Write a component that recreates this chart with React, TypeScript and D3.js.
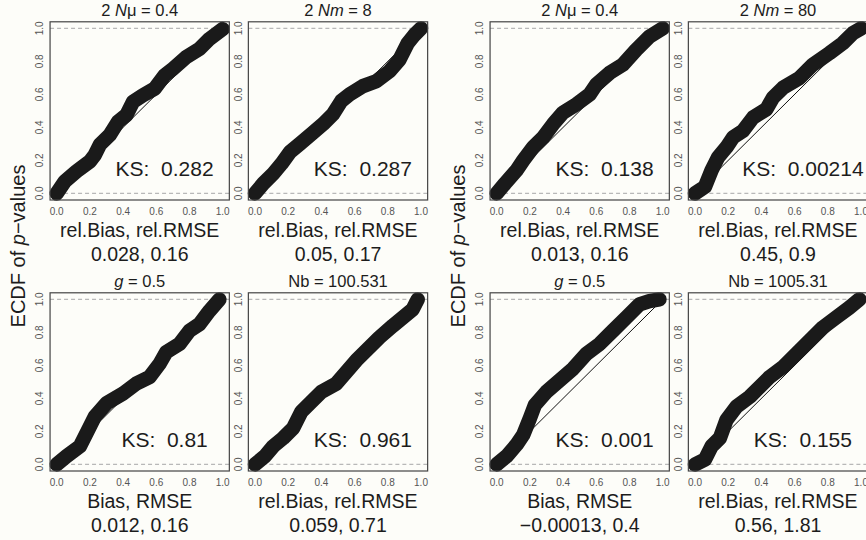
import React from 'react';
import * as d3 from 'd3';

// ---------- data ----------
const panelTitles = [
  '2 *N*μ = 0.4', '2 *N**m* = 8', '*g* = 0.5', 'Nb = 100.531',
  '2 *N*μ = 0.4', '2 *N**m* = 80', '*g* = 0.5', 'Nb = 1005.31',
];
const xLabelTop = [
  'rel.Bias, rel.RMSE', 'rel.Bias, rel.RMSE', 'Bias, RMSE', 'rel.Bias, rel.RMSE',
  'rel.Bias, rel.RMSE', 'rel.Bias, rel.RMSE', 'Bias, RMSE', 'rel.Bias, rel.RMSE',
];
const xLabelBottom = [
  '0.028, 0.16', '0.05, 0.17', '0.012, 0.16', '0.059, 0.71',
  '0.013, 0.16', '0.45, 0.9', '\u22120.00013, 0.4', '0.56, 1.81',
];
const ksValues = ['0.282', '0.287', '0.81', '0.961', '0.138', '0.00214', '0.001', '0.155'];
const tickValues = [0, 0.2, 0.4, 0.6, 0.8, 1.0];
const tickLabels = ['0.0', '0.2', '0.4', '0.6', '0.8', '1.0'];

const ecdfMuA: [number, number][] = [
  [0, 0], [0.05, 0.074], [0.12, 0.134], [0.2, 0.194], [0.23, 0.234], [0.26, 0.295],
  [0.32, 0.355], [0.37, 0.435], [0.42, 0.475], [0.46, 0.555], [0.52, 0.595], [0.59, 0.635],
  [0.65, 0.715], [0.7, 0.755], [0.78, 0.826], [0.86, 0.876], [0.92, 0.936], [1.0, 0.996],
];
const ecdfNmA: [number, number][] = [
  [0, 0], [0.05, 0.06], [0.11, 0.12], [0.16, 0.18], [0.21, 0.25], [0.27, 0.3],
  [0.34, 0.36], [0.41, 0.42], [0.47, 0.48], [0.52, 0.56], [0.57, 0.6], [0.65, 0.65],
  [0.73, 0.68], [0.81, 0.74], [0.87, 0.81], [0.92, 0.91], [0.96, 0.96], [1.0, 1.0],
];
const ecdfGA: [number, number][] = [
  [0, 0], [0.06, 0.05], [0.14, 0.11], [0.19, 0.21], [0.23, 0.29], [0.3, 0.37],
  [0.4, 0.43], [0.48, 0.49], [0.56, 0.53], [0.62, 0.61], [0.66, 0.68], [0.74, 0.73],
  [0.8, 0.81], [0.86, 0.85], [0.92, 0.93], [0.98, 1.0],
];
const ecdfNbA: [number, number][] = [
  [0, 0], [0.06, 0.05], [0.11, 0.11], [0.17, 0.16], [0.23, 0.22], [0.28, 0.32],
  [0.33, 0.37], [0.4, 0.44], [0.49, 0.49], [0.55, 0.56], [0.61, 0.63], [0.68, 0.7],
  [0.75, 0.77], [0.83, 0.84], [0.89, 0.89], [0.95, 0.94], [0.98, 1.0],
];
const ecdfMuB: [number, number][] = [
  [0, 0], [0.05, 0.06], [0.12, 0.14], [0.16, 0.2], [0.22, 0.28], [0.28, 0.34],
  [0.34, 0.42], [0.4, 0.49], [0.48, 0.54], [0.56, 0.6], [0.6, 0.66], [0.68, 0.73],
  [0.76, 0.78], [0.84, 0.87], [0.92, 0.95], [1.0, 1.0],
];
const ecdfNmB: [number, number][] = [
  [0, 0], [0.06, 0.04], [0.1, 0.14], [0.14, 0.22], [0.19, 0.28], [0.23, 0.34],
  [0.29, 0.38], [0.35, 0.46], [0.43, 0.51], [0.47, 0.58], [0.53, 0.64], [0.63, 0.7],
  [0.71, 0.78], [0.81, 0.85], [0.89, 0.91], [0.95, 0.97], [1.0, 1.0],
];
const ecdfGB: [number, number][] = [
  [0, 0], [0.06, 0.05], [0.12, 0.12], [0.16, 0.18], [0.2, 0.28], [0.23, 0.36],
  [0.3, 0.44], [0.38, 0.51], [0.46, 0.58], [0.54, 0.67], [0.62, 0.73], [0.7, 0.81],
  [0.78, 0.89], [0.86, 0.97], [0.92, 0.99], [0.98, 1.0],
];
const ecdfNbB: [number, number][] = [
  [0, 0], [0.06, 0.03], [0.1, 0.11], [0.15, 0.16], [0.19, 0.27], [0.25, 0.35],
  [0.33, 0.41], [0.39, 0.47], [0.45, 0.53], [0.53, 0.59], [0.61, 0.67], [0.69, 0.75],
  [0.77, 0.83], [0.85, 0.89], [0.93, 0.95], [0.99, 1.0],
];
const panelCurves = [ecdfMuA, ecdfNmA, ecdfGA, ecdfNbA, ecdfMuB, ecdfNmB, ecdfGB, ecdfNbB];
const yAxisTitle = ['ECDF of ', 'p', '\u2212values'];

// ---------- layout ----------
const W = 866, H = 540;
const FONT = '"Liberation Sans", Arial, Helvetica, sans-serif';
const TEXT = '#1c1c1c';
const colX0 = [56.7, 255, 496.7, 695];
const rowY0 = [193.4, 464.4];
const UNIT_W = 166, UNIT_H = 165;
// panel index -> [col, row]
const panelPos: [number, number][] = [
  [0, 0], [1, 0], [0, 1], [1, 1],
  [2, 0], [3, 0], [2, 1], [3, 1],
];

function Title({ s, x, y }: { s: string; x: number; y: number }) {
  const parts = s.split('*');
  return (
    <text x={x} y={y} textAnchor="middle" fontSize={16.5} fontFamily={FONT} fill={TEXT}>
      {parts.map((p, i) => (
        <tspan key={i} fontStyle={i % 2 === 1 ? 'italic' : 'normal'}>{p}</tspan>
      ))}
    </text>
  );
}

function Panel({ idx }: { idx: number }) {
  const [c, r] = panelPos[idx];
  const x = d3.scaleLinear().domain([0, 1]).range([colX0[c], colX0[c] + UNIT_W]);
  const y = d3.scaleLinear().domain([0, 1]).range([rowY0[r], rowY0[r] - UNIT_H]);
  const line = d3.line<[number, number]>().x((d) => x(d[0])).y((d) => y(d[1]));
  const bl = x(-0.04), br = x(1.04), bt = y(1.04), bb = y(-0.04);
  return (
    <g>
      <line x1={bl} x2={br} y1={y(0)} y2={y(0)} stroke="#b8b8b8" strokeWidth={1.3} strokeDasharray="4,3" />
      <line x1={bl} x2={br} y1={y(1)} y2={y(1)} stroke="#b8b8b8" strokeWidth={1.3} strokeDasharray="4,3" />
      <line x1={x(0)} y1={y(0)} x2={x(1)} y2={y(1)} stroke="#111" strokeWidth={1} />
      <path d={line(panelCurves[idx]) || ''} fill="none" stroke="#1a1a1a" strokeWidth={14.5}
        strokeLinecap="round" strokeLinejoin="round" />
      <rect x={bl} y={bt} width={br - bl} height={bb - bt} fill="none" stroke="#444" strokeWidth={1.2} />
      {tickValues.map((t, i) => (
        <text key={'x' + i} x={x(t)} y={bb + 15.3} textAnchor="middle" fontSize={10} fontFamily={FONT} fill="#555">
          {tickLabels[i]}
        </text>
      ))}
      {tickValues.map((t, i) => (
        <text key={'y' + i} transform={`translate(${bl - 6.7},${y(t)}) rotate(-90)`} textAnchor="middle"
          fontSize={10} fontFamily={FONT} fill="#555">
          {tickLabels[i]}
        </text>
      ))}
      <Title s={panelTitles[idx]} x={(bl + br) / 2} y={bt - 6} />
      <text x={x(0.65)} y={y(0.15) + 7.5} textAnchor="middle" fontSize={21} fontFamily={FONT} fill={TEXT}
        style={{ whiteSpace: 'pre' }}>
        {'KS:  ' + ksValues[idx]}
      </text>
      <text x={(bl + br) / 2} y={bb + 36.5} textAnchor="middle" fontSize={19.5} fontFamily={FONT} fill={TEXT}>
        {xLabelTop[idx]}
      </text>
      <text x={(bl + br) / 2} y={bb + 60.5} textAnchor="middle" fontSize={19.5} fontFamily={FONT} fill={TEXT}>
        {xLabelBottom[idx]}
      </text>
    </g>
  );
}

export default function App() {
  return (
    <svg width={W} height={H} viewBox={`0 0 ${W} ${H}`}
      style={{ position: 'absolute', left: 0, top: 0, background: '#fdfdf9' }}>
      <rect x={0} y={0} width={W} height={H} fill="#fdfdf9" />
      {panelCurves.map((_, i) => <Panel key={i} idx={i} />)}
      {[18, 458].map((cx, i) => (
        <text key={i} transform={`translate(${cx + 7},246) rotate(-90)`} textAnchor="middle"
          fontSize={20} fontFamily={FONT} fill={TEXT}>
          <tspan>{yAxisTitle[0]}</tspan>
          <tspan fontStyle="italic">{yAxisTitle[1]}</tspan>
          <tspan>{yAxisTitle[2]}</tspan>
        </text>
      ))}
    </svg>
  );
}
